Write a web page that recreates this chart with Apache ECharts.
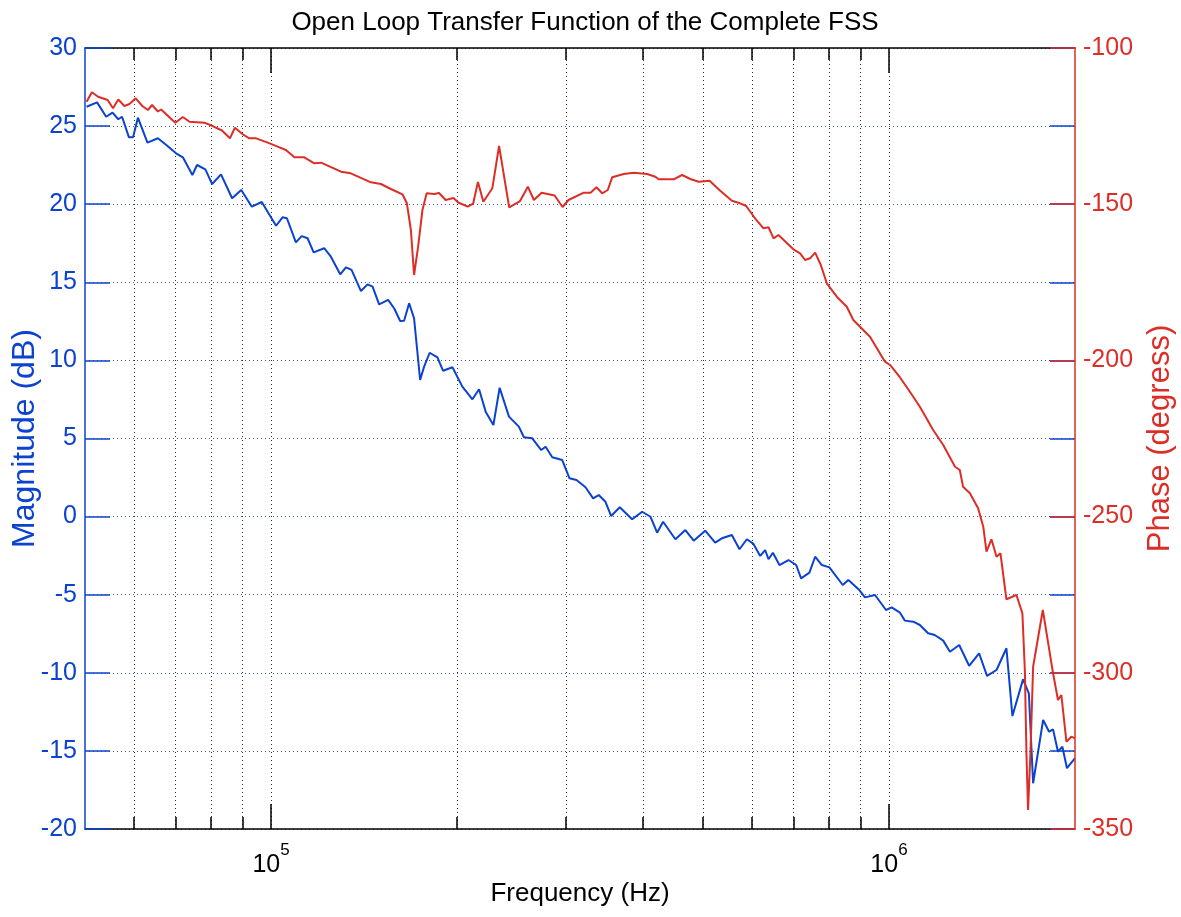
<!DOCTYPE html>
<html>
<head>
<meta charset="utf-8">
<title>Open Loop Transfer Function of the Complete FSS</title>
<script src="https://cdn.jsdelivr.net/npm/echarts@6.0.0/dist/echarts.min.js"></script>
<style>
  html, body { margin: 0; padding: 0; background: #fff; }
  #chart { width: 1181px; height: 917px; }
</style>
</head>
<body>
<div id="chart"></div>
<script>
// magnitude trace (Hz, dB)
const magFreq = [50300, 52300, 54100, 55400, 56600, 57400, 58900, 59800, 60900, 63100,
  65600, 67700, 70200, 72000, 74600, 75900, 78300, 80300, 83000, 86500,
  89500, 93100, 96600, 101900, 104400, 106100, 109700, 112100, 114600, 117200,
  121900, 125000, 129400, 132200, 135000, 139800, 143300, 146000, 149600, 154700,
  158200, 161800, 164200, 167300, 170400, 174300, 176900, 180600, 185900, 189800,
  196600, 204000, 211800, 217100, 222500, 229000, 234400, 242700, 251800, 256600,
  264700, 273700, 278200, 285200, 296000, 304100, 312100, 322800, 332100, 339100,
  347700, 355100, 366700, 384000, 398600, 411200, 421500, 431000, 451200, 468300,
  483000, 504200, 523300, 536600, 556900, 572900, 588900, 603600, 618800, 630400,
  638300, 648800, 664900, 687500, 707600, 720800, 743400, 759500, 778600, 800900,
  841800, 859600, 895400, 914600, 949400, 988900, 1010000, 1042000, 1061000, 1095000,
  1122000, 1157000, 1186000, 1224000, 1255000, 1299000, 1348000, 1399000, 1441000, 1493000,
  1549000, 1584000, 1648000, 1684000, 1711000, 1776000, 1816000, 1843000, 1877000, 1908000,
  1941000, 2000000];
const magDb = [26.24, 26.52, 25.60, 25.86, 25.44, 25.60, 24.28, 24.28, 25.54, 23.94,
  24.22, 23.79, 23.26, 23.00, 21.87, 22.51, 22.23, 21.29, 21.91, 20.38,
  20.91, 19.84, 20.14, 18.62, 19.16, 19.10, 17.56, 17.96, 17.82, 16.92,
  17.18, 16.64, 15.51, 15.96, 15.79, 14.44, 14.87, 14.72, 13.59, 13.87,
  13.34, 12.52, 12.54, 13.66, 12.70, 8.75, 9.60, 10.49, 10.20, 9.34,
  9.56, 8.32, 7.51, 8.15, 6.72, 5.86, 8.25, 6.40, 5.76, 5.08,
  5.01, 4.26, 4.47, 3.80, 3.62, 2.45, 2.34, 1.88, 1.17, 1.38,
  0.95, 0.04, 0.60, -0.17, 0.31, -0.01, -1.03, -0.33, -1.45, -0.86,
  -1.54, -0.90, -1.67, -1.39, -1.18, -2.09, -1.45, -1.75, -2.52, -2.14,
  -2.73, -2.31, -3.10, -2.78, -3.10, -3.95, -3.59, -2.57, -3.10, -3.25,
  -4.38, -4.06, -4.70, -5.17, -5.02, -5.98, -5.81, -6.15, -6.66, -6.73,
  -6.94, -7.47, -7.58, -7.94, -8.65, -8.22, -9.55, -8.75, -10.20, -9.82,
  -8.43, -12.77, -10.42, -11.31, -17.07, -13.02, -13.77, -13.62, -15.05, -14.73,
  -16.11, -15.47];

// phase trace (Hz, degrees)
const phaseFreq = [50300, 51300, 52500, 54400, 55500, 56600, 57900, 59000, 60400, 61900,
  63200, 64200, 65600, 66400, 70000, 72000, 73800, 78000, 80600, 83300,
  85800, 87400, 90100, 92200, 94600, 98800, 102500, 105700, 109100, 113200,
  117500, 120500, 129800, 134600, 145100, 150600, 156300, 163200, 165900, 168400,
  170400, 173000, 175800, 178600, 183600, 187000, 191700, 197400, 200900, 208100,
  212400, 216200, 220600, 228100, 233900, 242900, 252900, 260400, 266300, 274100,
  287700, 296300, 303000, 320700, 328900, 336300, 343500, 350700, 356500, 372200,
  386300, 406100, 418800, 424000, 448200, 462500, 477000, 492000, 512500, 533300,
  556900, 570700, 587500, 605300, 626500, 638300, 650500, 662400, 700400, 718100,
  731600, 745400, 759500, 775700, 793200, 823300, 854500, 875600, 931700, 985200,
  1004000, 1042000, 1081000, 1122000, 1179000, 1224000, 1279000, 1302000, 1318000, 1352000,
  1394000, 1421000, 1438000, 1465000, 1493000, 1515000, 1549000, 1608000, 1644000, 1659000,
  1669000, 1679000, 1694000, 1711000, 1774000, 1843000, 1877000, 1901000, 1937000, 1973000,
  2000000];
const phaseDeg = [-117.19, -114.18, -115.59, -116.65, -119.30, -116.49, -118.57, -117.93, -116.10, -118.57,
  -119.85, -118.25, -120.33, -119.69, -123.91, -122.09, -123.59, -123.91, -125.06, -126.41,
  -128.91, -125.54, -127.69, -128.91, -128.91, -130.31, -131.59, -132.65, -134.99, -134.99,
  -136.91, -136.72, -139.60, -140.11, -142.99, -143.53, -145.13, -146.83, -149.71, -158.26,
  -172.66, -163.60, -151.86, -146.51, -146.73, -146.40, -148.66, -148.02, -149.46, -150.80,
  -149.78, -142.89, -149.20, -144.91, -131.37, -150.99, -148.98, -144.40, -148.66, -146.32,
  -147.22, -150.90, -148.66, -146.32, -146.32, -144.59, -146.51, -145.45, -141.39, -140.33,
  -139.92, -140.33, -141.20, -142.03, -142.03, -140.65, -141.93, -142.80, -142.48, -145.68,
  -148.88, -149.52, -150.58, -154.19, -157.71, -157.39, -160.92, -159.86, -164.44, -165.72,
  -167.86, -167.32, -165.52, -169.46, -175.32, -179.61, -182.81, -187.07, -192.41, -200.42,
  -201.47, -205.47, -210.02, -214.82, -222.28, -227.08, -234.03, -235.08, -240.43, -242.54,
  -247.34, -253.23, -261.24, -257.27, -262.84, -261.75, -276.47, -275.10, -280.96, -299.10,
  -325.77, -343.92, -325.77, -298.05, -279.90, -300.16, -308.71, -307.11, -322.06, -320.45,
  -320.97];

// axis ticks
const majorTicks = [1e5, 1e6];
const minorTicks = [6e4, 7e4, 8e4, 9e4, 2e5, 3e5, 4e5, 5e5, 6e5, 7e5, 8e5, 9e5];
const freqRange = [5e4, 2e6];
const magRange = [-20, 30];
const phaseRange = [-350, -100];

const BLUE = '#0b43d0';
const RED = '#dc2e27';
const FONT = '"Liberation Sans", Arial, sans-serif';
const box = { left: 85, right: 106, top: 48, bottom: 88, containLabel: false, outerBoundsMode: 'none' };

const lg = v => Math.log10(v);
const dots = { type: [1, 3], width: 1 };

// grid 0 holds the data, grids 1 and 2 only draw the log decade ticks / grid
const chart = echarts.init(document.getElementById('chart'));

const decoX = (pos, ticks, len, extra) => Object.assign({
  type: 'value', position: pos,
  min: lg(freqRange[0]), max: lg(freqRange[1]),
  axisLine: { show: false, onZero: false },
  axisTick: { show: true, inside: true, length: len, customValues: ticks.map(lg),
    lineStyle: { color: '#000', width: 1.5 } },
  axisLabel: { show: false },
  splitLine: { show: false },
  z: 1
}, extra);

chart.setOption({
  animation: false,
  backgroundColor: '#fff',
  title: {
    text: 'Open Loop Transfer Function of the Complete FSS',
    left: 580, top: 5, textAlign: 'center',
    textStyle: { fontFamily: FONT, fontSize: 26, fontWeight: 'normal', color: '#000' }
  },
  grid: [
    Object.assign({}, box),
    Object.assign({}, box),
    Object.assign({}, box)
  ],
  xAxis: [
    { gridIndex: 0, type: 'log', logBase: 10, min: freqRange[0], max: freqRange[1],
      axisLine: { show: false, onZero: false }, axisTick: { show: false },
      axisLabel: { show: false }, splitLine: { show: false } },
    decoX('bottom', majorTicks, 25, {
      gridIndex: 1,
      axisLine: { show: true, onZero: false, lineStyle: { color: '#000', width: 1.5 } },
      axisLabel: {
        show: true, customValues: majorTicks.map(lg), margin: 13,
        formatter: v => '{a|10}{b|' + Math.round(v) + '}',
        rich: {
          a: { fontFamily: FONT, fontSize: 25, color: '#000', lineHeight: 36, verticalAlign: 'bottom' },
          b: { fontFamily: FONT, fontSize: 17, color: '#000', lineHeight: 36, verticalAlign: 'top' }
        }
      },
      splitLine: { show: true, lineStyle: Object.assign({ color: '#333' }, dots) },
      name: 'Frequency (Hz)', nameLocation: 'middle', nameGap: 52, nameMoveOverlap: false,
      nameTextStyle: { fontFamily: FONT, fontSize: 26, color: '#000' }
    }),
    decoX('top', majorTicks, 25, {
      gridIndex: 1,
      axisLine: { show: true, onZero: false, lineStyle: { color: '#000', width: 1.5 } }
    }),
    decoX('bottom', minorTicks, 12, {
      gridIndex: 2,
      splitLine: { show: true, lineStyle: Object.assign({ color: '#333' }, dots) }
    }),
    decoX('top', minorTicks, 12, { gridIndex: 2 })
  ],
  yAxis: [
    { gridIndex: 0, type: 'value', position: 'left', min: magRange[0], max: magRange[1], interval: 5,
      axisLine: { show: true, onZero: false, lineStyle: { color: BLUE, width: 1.5 } },
      axisTick: { show: true, inside: true, length: 25, lineStyle: { color: BLUE, width: 1.5 } },
      axisLabel: { color: BLUE, fontFamily: FONT, fontSize: 25, margin: 8 },
      splitLine: { show: false },
      name: 'Magnitude (dB)', nameLocation: 'middle', nameRotate: 90, nameGap: 44, nameMoveOverlap: false,
      nameTextStyle: { color: BLUE, fontFamily: FONT, fontSize: 32 },
      z: 4 },
    { gridIndex: 0, type: 'value', position: 'right', min: phaseRange[0], max: phaseRange[1], interval: 50,
      axisLine: { show: true, onZero: false, lineStyle: { color: RED, width: 1.5 } },
      axisTick: { show: true, inside: true, length: 25, lineStyle: { color: RED, width: 1.5 } },
      axisLabel: { color: RED, fontFamily: FONT, fontSize: 25, margin: 8 },
      splitLine: { show: false },
      name: 'Phase (degress)', nameLocation: 'middle', nameRotate: 90, nameGap: 70, nameMoveOverlap: false,
      nameTextStyle: { color: RED, fontFamily: FONT, fontSize: 31 },
      z: 5 },
    // horizontal dotted grid, kept under the traces
    { gridIndex: 1, type: 'value', position: 'left', min: magRange[0], max: magRange[1], interval: 5,
      axisLine: { show: false, onZero: false }, axisTick: { show: false }, axisLabel: { show: false },
      splitLine: { show: true, lineStyle: Object.assign({ color: '#4452a6' }, dots) },
      z: 0 },
    // magnitude ticks repeated on the right side
    { gridIndex: 1, type: 'value', position: 'right', min: magRange[0], max: magRange[1], interval: 5,
      axisLine: { show: false, onZero: false },
      axisTick: { show: true, inside: true, length: 25, lineStyle: { color: BLUE, width: 1.5 } },
      axisLabel: { show: false }, splitLine: { show: false },
      z: 3 },
    { gridIndex: 2, type: 'value', min: 0, max: 1, show: false }
  ],
  series: [
    { name: 'Magnitude', type: 'line', xAxisIndex: 0, yAxisIndex: 0,
      data: magFreq.map((f, i) => [f, magDb[i]]),
      showSymbol: false, lineStyle: { color: BLUE, width: 2 }, itemStyle: { color: BLUE }, z: 2 },
    { name: 'Phase', type: 'line', xAxisIndex: 0, yAxisIndex: 1,
      data: phaseFreq.map((f, i) => [f, phaseDeg[i]]),
      showSymbol: false, lineStyle: { color: RED, width: 2 }, itemStyle: { color: RED }, z: 2 }
  ]
});
</script>
</body>
</html>
